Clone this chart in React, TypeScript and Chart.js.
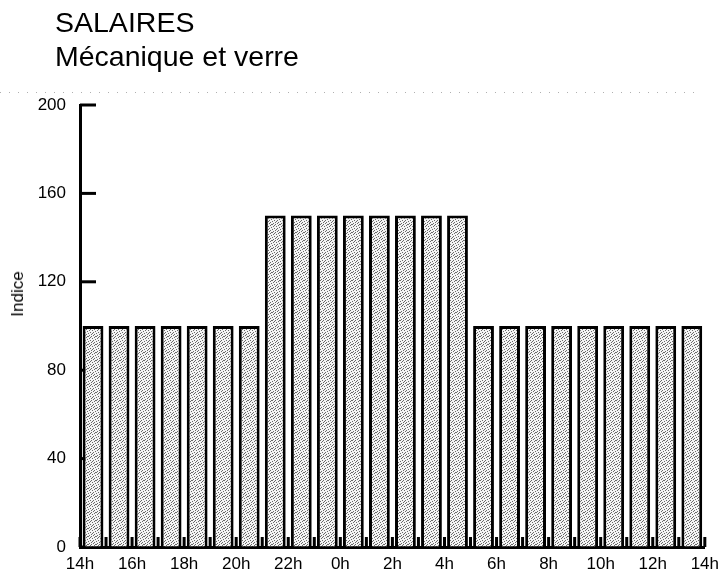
import React, { useEffect, useRef } from "react";
import { Chart, registerables } from "chart.js";

Chart.register(...registerables);

const titleLine1 = "SALAIRES";
const titleLine2 = "Mécanique et verre";
const yAxisTitle = "Indice";

// one bar per hour, from 14h to 13h
const hourLabels = [
  "14h", "15h", "16h", "17h", "18h", "19h", "20h",
  "21h", "22h", "23h", "0h", "1h", "2h", "3h", "4h",
  "5h", "6h", "7h", "8h", "9h", "10h", "11h", "12h", "13h",
];
const indexValues = [
  100, 100, 100, 100, 100, 100, 100,
  150, 150, 150, 150, 150, 150, 150, 150,
  100, 100, 100, 100, 100, 100, 100, 100, 100,
];
// labels shown every two hours on the x axis (boundaries)
const xTickLabels = ["14h", "16h", "18h", "20h", "22h", "0h", "2h", "4h", "6h", "8h", "10h", "12h", "14h"];
const yTicks = [0, 40, 80, 120, 160, 200];

const FONT = "'Liberation Sans', Arial, Helvetica, sans-serif";

function makeStipple(): CanvasPattern | string {
  const c = document.createElement("canvas");
  c.width = 8;
  c.height = 8;
  const g = c.getContext("2d");
  if (!g) return "#cfcfcf";
  g.fillStyle = "#f4f4f4";
  g.fillRect(0, 0, 8, 8);
  g.fillStyle = "#6a6a6a";
  const dots = [
    [0, 0], [3, 0], [6, 1], [1, 2], [4, 2], [7, 3], [2, 4], [5, 4],
    [0, 5], [3, 6], [6, 6], [1, 7], [5, 7], [7, 0], [2, 1], [4, 5],
  ];
  dots.forEach(([dx, dy]) => g.fillRect(dx, dy, 1, 1));
  const p = g.createPattern(c, "repeat");
  return p || "#cfcfcf";
}

const innerTicks = {
  id: "innerTicks",
  beforeDraw(chart: any) {
    const { ctx } = chart;
    ctx.save();
    ctx.strokeStyle = "#b0b0b0";
    ctx.lineWidth = 1;
    ctx.setLineDash([1, 8]);
    ctx.beginPath();
    ctx.moveTo(0, 92.5);
    ctx.lineTo(700, 92.5);
    ctx.stroke();
    ctx.restore();
  },
  beforeDatasetsDraw(chart: any) {
    const { ctx, chartArea, scales } = chart;
    const x = scales.x;
    const y = scales.y;
    ctx.save();
    ctx.strokeStyle = "#000";
    ctx.lineWidth = 3;
    y.ticks.forEach((t: any) => {
      const py = y.getPixelForValue(t.value);
      ctx.beginPath();
      ctx.moveTo(chartArea.left, py);
      ctx.lineTo(chartArea.left + 16, py);
      ctx.stroke();
    });
    x.ticks.forEach((t: any) => {
      const px = x.getPixelForValue(t.value);
      ctx.beginPath();
      ctx.moveTo(px, chartArea.bottom);
      ctx.lineTo(px, chartArea.bottom - 10);
      ctx.stroke();
    });
    ctx.restore();
  },
};

export default function App() {
  const canvasRef = useRef<HTMLCanvasElement | null>(null);

  useEffect(() => {
    const canvas = canvasRef.current;
    if (!canvas) return;
    const data = indexValues.map((v, i) => ({ x: i + 0.5, y: v, label: hourLabels[i] }));
    const chart = new Chart(canvas, {
      type: "bar",
      data: {
        datasets: [
          {
            data: data as any,
            backgroundColor: makeStipple() as any,
            borderColor: "#000",
            borderWidth: 3,
            borderSkipped: "bottom",
            barPercentage: 0.8,
            categoryPercentage: 1,
          },
        ],
      },
      options: {
        animation: false,
        responsive: false,
        devicePixelRatio: 1,
        layout: { padding: { top: 105, left: 0, right: 18, bottom: 0 } },
        plugins: {
          legend: { display: false },
          tooltip: { enabled: false },
          title: { display: false },
        },
        scales: {
          x: {
            type: "linear",
            offset: false,
            min: 0,
            max: hourLabels.length,
            grid: { display: true, drawOnChartArea: false, drawTicks: false, offset: false },
            border: { display: true, color: "#000", width: 3 },
            afterFit: (s: any) => {
              s.height = 32;
            },
            afterBuildTicks: (s: any) => {
              s.ticks = hourLabels.map((_, i) => ({ value: i })).concat([{ value: hourLabels.length }]);
            },
            ticks: {
              autoSkip: false,
              maxRotation: 0,
              padding: 7,
              color: "#000",
              font: { family: FONT, size: 17 },
              callback: (v: any) => (Number(v) % 2 === 0 ? xTickLabels[Number(v) / 2] : ""),
            },
          },
          y: {
            min: 0,
            max: 200,
            grid: { display: true, drawOnChartArea: false, drawTicks: false },
            border: { display: true, color: "#000", width: 3 },
            afterFit: (s: any) => {
              s.width = 80;
            },
            afterBuildTicks: (s: any) => {
              s.ticks = yTicks.map((v) => ({ value: v }));
            },
            ticks: {
              padding: 14,
              color: "#000",
              font: { family: FONT, size: 17 },
            },
          },
        },
      },
      plugins: [innerTicks],
    } as any);
    return () => chart.destroy();
  }, []);

  return (
    <div style={{ position: "fixed", left: 0, top: 0, width: 726, height: 579, background: "#fff" }}>
      <canvas ref={canvasRef} width={726} height={579} style={{ position: "absolute", left: 0, top: 0 }} />
      <div
        style={{
          position: "absolute",
          left: 55,
          top: 5,
          fontFamily: FONT,
          fontSize: 28.5,
          lineHeight: "34px",
          color: "#000",
          whiteSpace: "nowrap",
        }}
      >
        <div>{titleLine1}</div>
        <div>{titleLine2}</div>
      </div>
      <div
        style={{
          position: "absolute",
          left: 18,
          top: 294,
          transform: "translate(-50%, -50%) rotate(-90deg)",
          fontFamily: FONT,
          fontSize: 17,
          color: "#000",
          whiteSpace: "nowrap",
        }}
      >
        {yAxisTitle}
      </div>
    </div>
  );
}
